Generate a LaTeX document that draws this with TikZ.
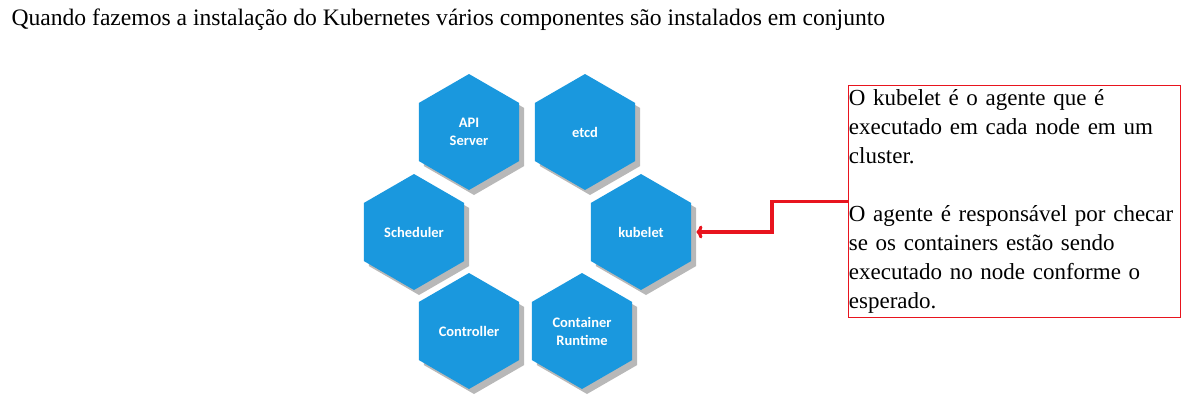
\documentclass[tikz,border=0pt]{standalone}
\usepackage{fontspec}
\setmainfont{Liberation Serif}
\newfontfamily\hexfont{Carlito}
\usetikzlibrary{shapes.geometric,shadows,arrows.meta}
\definecolor{kubeblue}{RGB}{26,152,222}
\definecolor{notared}{RGB}{232,20,30}
\begin{document}
\begin{tikzpicture}[x=1pt,y=-1pt,
hexa/.style={regular polygon,regular polygon sides=6,shape border rotate=30,minimum size=116pt,inner sep=0pt,fill=kubeblue,text=white,align=center,font=\hexfont\bfseries\fontsize{14.5}{18}\selectfont,drop shadow={shadow xshift=5pt,shadow yshift=-5pt,fill=black!35,opacity=0.8}},
nota/.style={draw=notared,line width=0.8pt,text width=331pt,inner xsep=0.5pt,minimum height=232pt,align=left,anchor=north west,font=\fontsize{23}{29}\selectfont},
seta/.style={draw=notared,line width=3.2pt,-{To[length=6pt,width=13pt]}}]
\useasboundingbox (0,0) rectangle (1197,407);
\node[anchor=base west,font=\fontsize{23.6}{25}\selectfont] (titulo) at (8,25) {Quando fazemos a instalação do Kubernetes vários componentes são instalados em conjunto};

\node[hexa] (api) at (469,132) {API\\Server};
\node[hexa] (etcd) at (585,132) {etcd};
\node[hexa] (scheduler) at (414,232) {Scheduler};
\node[hexa] (kubelet) at (641,232) {kubelet};
\node[hexa] (controller) at (469,331) {Controller};
\node[hexa] (runtime) at (582,331) {Container\\Runtime};

\node[nota] (nota) at (848,85) {O kubelet é o agente que é\\executado em cada node em um\\cluster.\\[29pt]O agente é responsável por checar\\se os containers estão sendo\\executado no node conforme o\\esperado.};

\draw[seta] (nota.west) -- ++(-76,0) |- ([xshift=5pt]kubelet.east);
\end{tikzpicture}
\end{document}
